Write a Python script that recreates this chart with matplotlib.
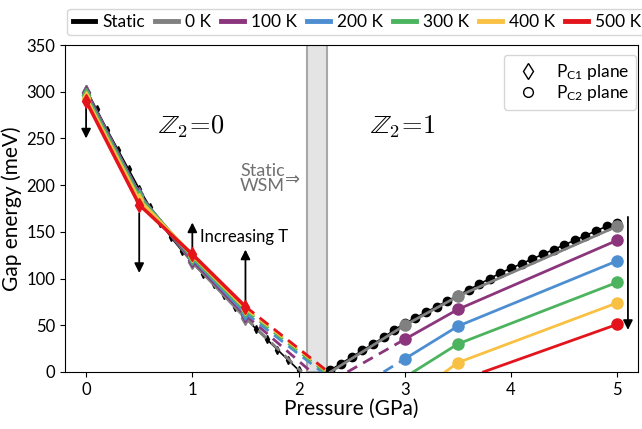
"""
Gap energy vs pressure
"""

import numpy as np
import matplotlib
matplotlib.use("Agg")
import matplotlib.pyplot as plt
from matplotlib.lines import Line2D

# %%
# Data

temps = ["0 K", "100 K", "200 K", "300 K", "400 K", "500 K"]
colors = ["#808080", "#8b357c", "#4d8ed1", "#4cb35e", "#f8c144", "#e3141b"]

# static calculation, P_C1 plane (diamonds) and P_C2 plane (circles)
p_static_c1 = [0.0, 0.1, 0.2, 0.3, 0.4, 0.5, 0.6, 0.7, 0.8, 0.9, 1.0,
               1.1, 1.2, 1.3, 1.4, 1.5, 1.6, 1.7, 1.8, 1.9, 2.0]
gap_static_c1 = [303, 281, 259, 238, 217, 196, 177, 160, 144, 130, 117,
                 105, 94, 82, 70, 58, 46, 35, 24, 13, 2]
p_static_c2 = [2.3, 2.4, 2.5, 2.6, 2.7, 2.8, 2.9, 3.0, 3.1, 3.2, 3.3, 3.4,
               3.5, 3.6, 3.7, 3.8, 3.9, 4.0, 4.1, 4.2, 4.3, 4.4, 4.5, 4.6,
               4.7, 4.8, 4.9, 5.0]
gap_static_c2 = [2, 9, 16, 23, 30, 37, 45, 52, 58, 64, 70, 76, 82, 88, 94,
                 100, 106, 111, 116, 121, 126, 131, 136, 141, 146, 151, 156,
                 160]

# finite temperature, Z2 = 0 side
p_left = [0.0, 0.5, 1.0, 1.5]
gap_left = {
    "0 K": [300, 190, 118, 58],
    "100 K": [299, 189, 120, 61],
    "200 K": [297, 188, 122, 63],
    "300 K": [296, 187, 123, 66],
    "400 K": [293, 184, 125, 68],
    "500 K": [290, 179, 126, 70],
}
p_close = [2.03, 2.12, 2.22, 2.25, 2.27, 2.28]   # gap closes (extrapolated)

# finite temperature, Z2 = 1 side
p_right = [3.0, 3.5, 5.0]
gap_right = {
    "0 K": [50, 81, 156],
    "100 K": [35, 67, 141],
    "200 K": [14, 49, 119],
    "300 K": [np.nan, 30, 96],
    "400 K": [np.nan, 10, 74],
    "500 K": [np.nan, np.nan, 51],
}
p_open = [2.30, 2.46, 2.80, 3.08, 3.38, 3.74]    # gap reopens

wsm_band = (2.08, 2.27)

# %%
# Plot

plt.rcParams["font.family"] = ["Lato", "DejaVu Sans"]
fig = plt.figure(figsize=(6.42, 4.29), dpi=100)
ax = fig.add_axes([0.101, 0.133, 0.892, 0.762])

ax.axvspan(*wsm_band, facecolor="#e4e4e4", edgecolor="#a8a8a8", lw=1.5, zorder=0)

ax.plot(p_static_c1, gap_static_c1, color="black", lw=1.2, marker="d",
        ms=4, zorder=2)
ax.plot(p_static_c2, gap_static_c2, color="black", lw=1.2, marker="o",
        ms=6, zorder=2)

for i, t in enumerate(temps):
    c = colors[i]
    z = 3 + i
    ax.plot(p_left, gap_left[t], color=c, lw=2.5, marker="d", ms=7, zorder=z)
    ax.plot([p_left[-1], p_close[i]], [gap_left[t][-1], 0], color=c, lw=2,
            ls=(0, (4, 2.5)), zorder=z)

    vals = np.array(gap_right[t], dtype=float)
    ok = ~np.isnan(vals)
    pr = np.array(p_right)[ok]
    vr = vals[ok]
    ls = (0, (4, 2.5)) if pr[0] == p_right[0] and i > 0 else "-"
    ax.plot([p_open[i], pr[0]], [0, vr[0]], color=c, lw=2, ls=ls, zorder=z)
    ax.plot(pr, vr, color=c, lw=2, marker="o", ms=8, zorder=z)

# arrows showing the effect of temperature
arrows = [(0.0, 283, 250), (0.5, 170, 106), (1.0, 131, 160),
          (1.5, 74, 131), (5.1, 166, 45)]
for x, y0, y1 in arrows:
    ax.annotate("", xy=(x, y1), xytext=(x, y0),
                arrowprops=dict(arrowstyle="-|>", color="black", lw=1.3,
                                mutation_scale=14, shrinkA=0, shrinkB=0))

ax.text(1.07, 144, "Increasing T", fontsize=12, va="center")
ax.text(1.87, 207, "Static\nWSM", fontsize=13, color="#707070", ha="right",
        va="center", linespacing=0.92)
ax.text(1.87, 205, "\u21d2", fontsize=13, color="#707070", ha="left",
        va="center", family="DejaVu Sans")
ax.text(0.99, 262, r"$\mathbb{Z}_2\!=\!0$", fontsize=19, ha="center",
        va="center", math_fontfamily="cm")
ax.text(2.98, 262, r"$\mathbb{Z}_2\!=\!1$", fontsize=19, ha="center",
        va="center", math_fontfamily="cm")

ax.set_xlim(-0.2, 5.19)
ax.set_ylim(0, 350)
ax.set_xticks(range(6))
ax.set_yticks(range(0, 351, 50))
ax.tick_params(labelsize=12)
ax.set_xlabel("Pressure (GPa)", fontsize=15, labelpad=1)
ax.set_ylabel("Gap energy (meV)", fontsize=15, labelpad=3)

# legends
handles = [Line2D([], [], color="black", lw=3.5)]
handles += [Line2D([], [], color=c, lw=3.5) for c in colors]
leg1 = ax.legend(handles, ["Static"] + temps, ncol=7, loc="lower right",
                 bbox_to_anchor=(1.015, 1.03), fontsize=12.5, handlelength=1.3,
                 handletextpad=0.4, columnspacing=0.6, borderpad=0.3,
                 borderaxespad=0, frameon=True)
ax.add_artist(leg1)

plane_handles = [
    Line2D([], [], ls="none", marker="d", ms=8, mfc="none", mec="black"),
    Line2D([], [], ls="none", marker="o", ms=7, mfc="none", mec="black"),
]
ax.legend(plane_handles,
          [r"$\mathregular{P_{C1}}$ plane", r"$\mathregular{P_{C2}}$ plane"],
          loc="upper right", bbox_to_anchor=(0.998, 0.97), borderaxespad=0,
          fontsize=12.5, handletextpad=0.6, labelspacing=0.05, borderpad=0.4)

fig.savefig("out.png", dpi=100)
